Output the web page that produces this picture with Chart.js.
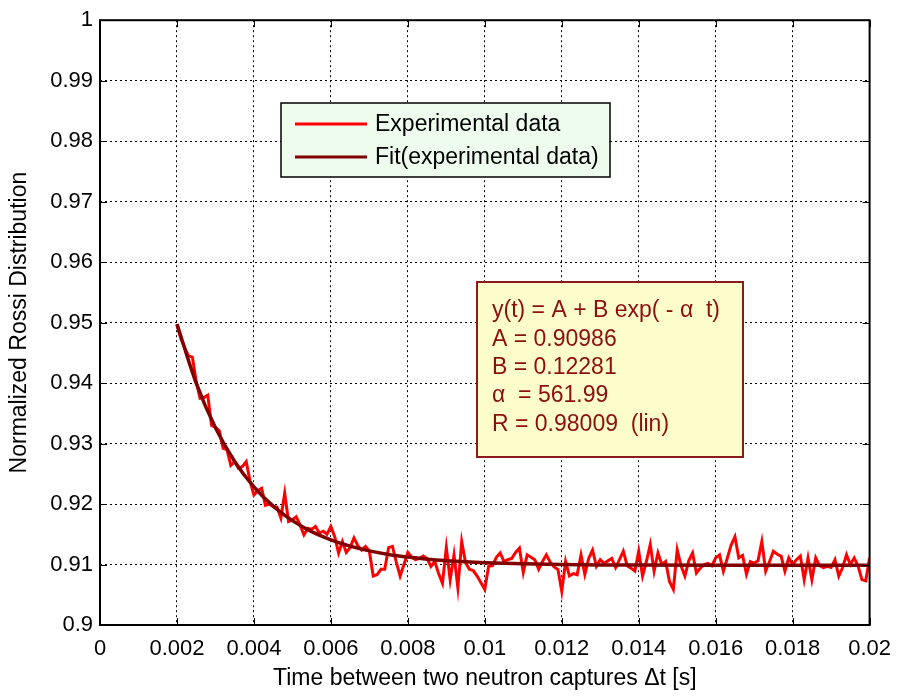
<!DOCTYPE html>
<html>
<head>
<meta charset="utf-8">
<script src="https://cdn.jsdelivr.net/npm/chart.js@4.4.1/dist/chart.umd.min.js"></script>
<style>
  html, body { margin: 0; padding: 0; background: #fff; }
  #rossi { display: block; }
</style>
</head>
<body>
<canvas id="rossi" width="902" height="696"></canvas>
<script>
// measured Rossi distribution (sampled every 0.1 ms)
var expTime = [
  0.0020,0.0021,0.0022,0.0023,0.0024,0.0025,0.0026,0.0027,0.0028,0.0029,
  0.0030,0.0031,0.0032,0.0033,0.0034,0.0035,0.0036,0.0037,0.0038,0.0039,
  0.0040,0.0041,0.0042,0.0043,0.0044,0.0045,0.0046,0.0047,0.0048,0.0049,
  0.0050,0.0051,0.0052,0.0053,0.0054,0.0055,0.0056,0.0057,0.0058,0.0059,
  0.0060,0.0061,0.0062,0.0063,0.0064,0.0065,0.0066,0.0067,0.0068,0.0069,
  0.0070,0.0071,0.0072,0.0073,0.0074,0.0075,0.0076,0.0077,0.0078,0.0079,
  0.0080,0.0081,0.0082,0.0083,0.0084,0.0085,0.0086,0.0087,0.0088,0.0089,
  0.0090,0.0091,0.0092,0.0093,0.0094,0.0095,0.0096,0.0097,0.0098,0.0099,
  0.0100,0.0101,0.0102,0.0103,0.0104,0.0105,0.0106,0.0107,0.0108,0.0109,
  0.0110,0.0111,0.0112,0.0113,0.0114,0.0115,0.0116,0.0117,0.0118,0.0119,
  0.0120,0.0121,0.0122,0.0123,0.0124,0.0125,0.0126,0.0127,0.0128,0.0129,
  0.0130,0.0131,0.0132,0.0133,0.0134,0.0135,0.0136,0.0137,0.0138,0.0139,
  0.0140,0.0141,0.0142,0.0143,0.0144,0.0145,0.0146,0.0147,0.0148,0.0149,
  0.0150,0.0151,0.0152,0.0153,0.0154,0.0155,0.0156,0.0157,0.0158,0.0159,
  0.0160,0.0161,0.0162,0.0163,0.0164,0.0165,0.0166,0.0167,0.0168,0.0169,
  0.0170,0.0171,0.0172,0.0173,0.0174,0.0175,0.0176,0.0177,0.0178,0.0179,
  0.0180,0.0181,0.0182,0.0183,0.0184,0.0185,0.0186,0.0187,0.0188,0.0189,
  0.0190,0.0191,0.0192,0.0193,0.0194,0.0195,0.0196,0.0197,0.0198,0.0199,
  0.0200
];
var expValues = [
  0.9496,0.9474,0.9458,0.9445,0.9443,0.9403,0.9375,0.9376,0.9380,0.9330,
  0.9327,0.9321,0.9292,0.9290,0.9264,0.9270,0.9259,0.9262,0.9270,0.9238,
  0.9215,0.9222,0.9226,0.9198,0.9200,0.9196,0.9195,0.9177,0.9218,0.9171,
  0.9174,0.9179,0.9165,0.9149,0.9160,0.9158,0.9163,0.9152,0.9155,0.9150,
  0.9163,0.9146,0.9119,0.9138,0.9120,0.9128,0.9144,0.9131,0.9124,0.9130,
  0.9122,0.9081,0.9083,0.9092,0.9092,0.9128,0.9130,0.9104,0.9081,0.9100,
  0.9120,0.9112,0.9108,0.9110,0.9114,0.9110,0.9097,0.9105,0.9085,0.9069,
  0.9128,0.9075,0.9116,0.9062,0.9138,0.9103,0.9092,0.9090,0.9081,0.9070,
  0.9059,0.9097,0.9098,0.9112,0.9119,0.9105,0.9108,0.9110,0.9120,0.9127,
  0.9087,0.9116,0.9112,0.9108,0.9092,0.9105,0.9116,0.9104,0.9096,0.9092,
  0.9056,0.9105,0.9081,0.9085,0.9083,0.9116,0.9084,0.9110,0.9124,0.9097,
  0.9108,0.9102,0.9106,0.9110,0.9095,0.9108,0.9122,0.9098,0.9094,0.9089,
  0.9122,0.9081,0.9105,0.9133,0.9089,0.9119,0.9100,0.9105,0.9072,0.9059,
  0.9124,0.9098,0.9081,0.9106,0.9119,0.9086,0.9094,0.9100,0.9102,0.9098,
  0.9111,0.9116,0.9089,0.9110,0.9132,0.9146,0.9111,0.9115,0.9084,0.9105,
  0.9102,0.9106,0.9138,0.9089,0.9105,0.9122,0.9117,0.9114,0.9089,0.9111,
  0.9100,0.9108,0.9114,0.9075,0.9111,0.9075,0.9111,0.9098,0.9095,0.9097,
  0.9095,0.9108,0.9081,0.9095,0.9116,0.9100,0.9111,0.9098,0.9075,0.9073,
  0.9111
];

// fitted curve
var fitTime = [0.0020,0.0025,0.0030,0.0035,0.0040,0.0045,0.0050,0.0055,0.0060,0.0065,
               0.0070,0.0075,0.0080,0.0085,0.0090,0.0095,0.0100,0.0110,0.0120,0.0130,
               0.0140,0.0160,0.0180,0.0200];
var fitValues = [0.94977,0.94000,0.93261,0.92704,0.92283,0.91965,0.91726,0.91544,0.91408,0.91304,
                 0.91226,0.91167,0.91123,0.91089,0.91064,0.91045,0.91031,0.91011,0.91000,0.90994,
                 0.90991,0.90988,0.90987,0.90986];

var seriesNames = ["Experimental data", "Fit(experimental data)"];
var fitText = ["y(t) = A + B exp( - \u03b1  t)", "A = 0.90986", "B = 0.12281", "\u03b1  = 561.99", "R = 0.98009  (lin)"];

var xTickValues = [0,0.002,0.004,0.006,0.008,0.01,0.012,0.014,0.016,0.018,0.02];
var xTickLabels = ["0","0.002","0.004","0.006","0.008","0.01","0.012","0.014","0.016","0.018","0.02"];
var yTickValues = [0.9,0.91,0.92,0.93,0.94,0.95,0.96,0.97,0.98,0.99,1];
var yTickLabels = ["0.9","0.91","0.92","0.93","0.94","0.95","0.96","0.97","0.98","0.99","1"];

var FONT = "'Liberation Sans', Arial, Helvetica, sans-serif";

function pairs(xs, ys) {
  var out = [];
  for (var i = 0; i < xs.length; i++) out.push({x: xs[i], y: ys[i]});
  return out;
}

// box, inner ticks, legend and fit text box, drawn matlab-style
var matlabDecor = {
  id: "matlabDecor",
  afterDraw: function(chart) {
    var ctx = chart.ctx, a = chart.chartArea;
    var xs = chart.scales.x, ys = chart.scales.y;
    ctx.save();
    ctx.strokeStyle = "#000";
    ctx.lineWidth = 1;
    ctx.setLineDash([]);
    ctx.beginPath();
    xTickValues.forEach(function(v) {
      var px = Math.round(xs.getPixelForValue(v)) + 0.5;
      ctx.moveTo(px, a.bottom); ctx.lineTo(px, a.bottom - 7);
      ctx.moveTo(px, a.top); ctx.lineTo(px, a.top + 7);
    });
    yTickValues.forEach(function(v) {
      var py = Math.round(ys.getPixelForValue(v)) + 0.5;
      ctx.moveTo(a.left, py); ctx.lineTo(a.left + 7, py);
      ctx.moveTo(a.right, py); ctx.lineTo(a.right - 7, py);
    });
    ctx.stroke();
    ctx.lineWidth = 2;
    ctx.strokeRect(a.left, a.top, a.right - a.left, a.bottom - a.top);

    // legend
    var ds = chart.data.datasets;
    ctx.fillStyle = "#eefcee";
    ctx.fillRect(281, 103, 329, 74);
    ctx.lineWidth = 1.5;
    ctx.strokeStyle = "#000";
    ctx.strokeRect(281, 103, 329, 74);
    ctx.font = "23px " + FONT;
    ctx.textBaseline = "middle";
    ctx.textAlign = "left";
    [0, 1].forEach(function(di, row) {
      var y = 124 + row * 33;
      ctx.strokeStyle = ds[di].borderColor;
      ctx.lineWidth = 3;
      ctx.beginPath();
      ctx.moveTo(295, y); ctx.lineTo(367, y);
      ctx.stroke();
      ctx.fillStyle = "#000";
      ctx.fillText(ds[di].label, 375, y + 1);
    });

    // fit parameters box
    ctx.fillStyle = "#fdfccb";
    ctx.fillRect(477, 282, 266, 175);
    ctx.strokeStyle = "#8b1a1a";
    ctx.lineWidth = 2;
    ctx.strokeRect(477, 282, 266, 175);
    ctx.fillStyle = "#8b1010";
    fitText.forEach(function(t, i) {
      ctx.fillText(t, 492, 311 + i * 28.3);
    });
    ctx.restore();
  }
};

new Chart("rossi", {
  type: "line",
  data: {
    datasets: [{
      label: seriesNames[0],
      data: pairs(expTime, expValues),
      borderColor: "#ff0000",
      borderWidth: 3,
      pointRadius: 0,
      tension: 0,
      order: 1
    }, {
      label: seriesNames[1],
      data: pairs(fitTime, fitValues),
      borderColor: "#800000",
      borderWidth: 3.5,
      pointRadius: 0,
      cubicInterpolationMode: "monotone",
      order: 0
    }]
  },
  options: {
    responsive: false,
    animation: false,
    events: [],
    layout: { padding: { top: 15, right: 27, left: 0, bottom: 0 } },
    plugins: { legend: { display: false }, tooltip: { enabled: false } },
    scales: {
      x: {
        type: "linear",
        min: 0, max: 0.02,
        afterBuildTicks: function(s) { s.ticks = xTickValues.map(function(v) { return {value: v}; }); },
        afterFit: function(s) { s.height = 71; },
        ticks: {
          autoSkip: false, maxRotation: 0, padding: 11,
          color: "#000", font: { family: FONT, size: 22 },
          callback: function(v, i) { return xTickLabels[i]; }
        },
        grid: { color: "#000", lineWidth: 1, drawTicks: false },
        border: { display: false, dash: [2, 3] },
        title: {
          display: true, text: "Time between two neutron captures \u0394t [s]",
          color: "#000", font: { family: FONT, size: 23 }, padding: { top: 0, bottom: 4 }
        }
      },
      y: {
        type: "linear",
        min: 0.9, max: 1,
        afterBuildTicks: function(s) { s.ticks = yTickValues.map(function(v) { return {value: v}; }); },
        afterFit: function(s) { s.width = 100; },
        ticks: {
          autoSkip: false, padding: 7,
          color: "#000", font: { family: FONT, size: 22 },
          callback: function(v, i) { return yTickLabels[i]; }
        },
        grid: { color: "#000", lineWidth: 1, drawTicks: false },
        border: { display: false, dash: [2, 3] },
        title: {
          display: true, text: "Normalized Rossi Distribution",
          color: "#000", font: { family: FONT, size: 23 }, padding: { top: 6, bottom: 0 }
        }
      }
    }
  },
  plugins: [matlabDecor]
});
</script>
</body>
</html>
